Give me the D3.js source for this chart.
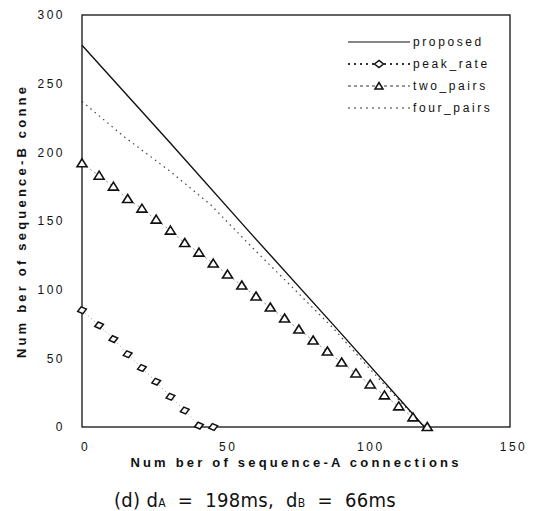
<!DOCTYPE html>
<html>
<head>
<meta charset="utf-8">
<script src="https://cdn.jsdelivr.net/npm/d3@7"></script>
<style>
  body { margin: 0; background: #fff; }
  svg { display: block; }
  text { font-family: "Liberation Sans", Arial, sans-serif; fill: #111; }
</style>
</head>
<body>
<div id="graph"></div>
<script>
// series
const proposedX = [0, 30, 60, 90, 120];
const proposedY = [278, 209, 139, 70, 0];

const peakX = [0, 6, 11, 16, 21, 26, 31, 36, 41, 46];
const peakY = [85, 74, 64, 53, 43, 33, 22, 12, 1, 0];

const twoX = [0, 6, 11, 16, 21, 26, 31, 36, 41, 46, 51, 56, 61, 66, 71, 76, 81, 86, 91, 96, 101, 106, 111, 116, 121];
const twoY = [192, 183, 175, 166, 159, 151, 143, 134, 127, 119, 111, 103, 95, 87, 79, 71, 63, 55, 47, 39, 31, 23, 15, 7, 0];

const fourX = [0, 15, 31, 45, 60, 76, 88, 101, 110, 120];
const fourY = [237, 211, 186, 162, 130, 97, 72, 42, 22, 0];

const xTicks = [0, 50, 100, 150];
const yTicks = [0, 50, 100, 150, 200, 250, 300];
const legendNames = ["proposed", "peak_rate", "two_pairs", "four_pairs"];

const w = 534;
const h = 511;
const padL = 82, padR = 510, padT = 15, padB = 427;

const svg = d3.select('#graph')
    .append('svg')
    .attr('width', w)
    .attr('height', h);

const xScale = d3.scaleLinear().domain([0, 150]).range([padL, padR]);
const yScale = d3.scaleLinear().domain([0, 300]).range([padB, padT]);

const zip = (xs, ys) => xs.map((x, i) => [x, ys[i]]);
const line = d3.line().x(d => xScale(d[0])).y(d => yScale(d[1]));

// frame
svg.append('rect')
    .attr('x', padL).attr('y', padT)
    .attr('width', padR - padL).attr('height', padB - padT)
    .attr('fill', 'none').attr('stroke', '#111').attr('stroke-width', 1.3);

// axes (labels only)
const xAxis = d3.axisBottom(xScale).tickValues(xTicks).tickSize(0).tickPadding(15);
const yAxis = d3.axisLeft(yScale).tickValues(yTicks).tickSize(0).tickPadding(17);

const gx = svg.append('g').attr('transform', 'translate(0,' + padB + ')').call(xAxis);
const gy = svg.append('g').attr('transform', 'translate(' + padL + ',0)').call(yAxis);
[gx, gy].forEach(g => {
    g.select('.domain').remove();
    g.selectAll('text')
        .style('font-family', '"Liberation Sans", Arial, sans-serif')
        .style('font-size', '12px')
        .style('letter-spacing', '2.5px')
        .attr('fill', '#111');
});
gx.selectAll('text').attr('dx', '3px');

// lines
svg.append('path').datum(zip(fourX, fourY))
    .attr('d', line).attr('fill', 'none')
    .attr('stroke', '#444').attr('stroke-width', 1.2)
    .attr('stroke-dasharray', '1.5,4');

svg.append('path').datum(zip(twoX, twoY))
    .attr('d', line).attr('fill', 'none')
    .attr('stroke', '#777').attr('stroke-width', 0.8)
    .attr('stroke-dasharray', '2,3');

svg.append('path').datum(zip(peakX, peakY))
    .attr('d', line).attr('fill', 'none')
    .attr('stroke', '#777').attr('stroke-width', 0.8)
    .attr('stroke-dasharray', '1,3');

svg.append('path').datum(zip(proposedX, proposedY))
    .attr('d', line).attr('fill', 'none')
    .attr('stroke', '#111').attr('stroke-width', 1.4);

// markers
const triPath = 'M0,-4.5L5,3.5L-5,3.5Z';
const diaPath = 'M-4.5,0L0,-3.5L4.5,0L0,3.5Z';

svg.selectAll('.tri')
    .data(zip(twoX, twoY))
    .enter().append('path')
    .attr('class', 'tri')
    .attr('transform', d => 'translate(' + xScale(d[0]) + ',' + yScale(d[1]) + ')')
    .attr('d', triPath)
    .attr('fill', '#fff').attr('stroke', '#111').attr('stroke-width', 1.6);

svg.selectAll('.dia')
    .data(zip(peakX, peakY))
    .enter().append('path')
    .attr('class', 'dia')
    .attr('transform', d => 'translate(' + xScale(d[0]) + ',' + yScale(d[1]) + ') rotate(-15)')
    .attr('d', diaPath)
    .attr('fill', '#fff').attr('stroke', '#111').attr('stroke-width', 1.5);

// legend
const legend = svg.selectAll('.legend')
    .data(legendNames)
    .enter().append('g')
    .attr('class', 'legend')
    .attr('transform', (d, i) => 'translate(348,' + (42 + i * 22) + ')');

legend.append('line')
    .attr('x1', 0).attr('x2', 62).attr('y1', 0).attr('y2', 0)
    .attr('stroke', (d, i) => i === 0 ? '#111' : '#333')
    .attr('stroke-width', (d, i) => i === 0 ? 1.2 : (i === 1 ? 2 : 1))
    .attr('stroke-dasharray', (d, i) => ['', '2,4', '3,3', '2,4'][i]);

legend.filter((d, i) => i === 1).append('path')
    .attr('transform', 'translate(31,0)')
    .attr('d', diaPath)
    .attr('fill', '#fff').attr('stroke', '#111').attr('stroke-width', 1.5);

legend.filter((d, i) => i === 2).append('path')
    .attr('transform', 'translate(31,0)')
    .attr('d', 'M0,-3.5L4,3L-4,3Z')
    .attr('fill', '#fff').attr('stroke', '#111').attr('stroke-width', 1.5);

legend.append('text')
    .attr('x', 65).attr('y', 0).attr('dy', '.35em')
    .style('font-size', '12px')
    .style('letter-spacing', '2.6px')
    .text(d => d);

// axis titles
svg.append('text')
    .attr('x', (padL + padR) / 2).attr('y', 467)
    .attr('text-anchor', 'middle')
    .style('font-size', '13px').style('font-weight', 'bold')
    .style('letter-spacing', '3.2px')
    .text('Num ber of sequence-A connections');

svg.append('text')
    .attr('transform', 'translate(26,' + ((padT + padB) / 2) + ') rotate(-90)')
    .attr('text-anchor', 'middle')
    .style('font-size', '13px').style('font-weight', 'bold')
    .style('letter-spacing', '3.2px')
    .text('Num ber of sequence-B conne');

// caption
const cap = svg.append('text')
    .attr('x', 255).attr('y', 507)
    .attr('text-anchor', 'middle')
    .style('white-space', 'pre')
    .style('font-family', '"Liberation Sans Narrow", "DejaVu Sans Condensed", sans-serif')
    .style('font-size', '20px')
    .style('letter-spacing', '0.3px');
cap.append('tspan').text('(d) d');
cap.append('tspan').style('font-size', '12px').text('A');
cap.append('tspan').text('  =  198ms,  d');
cap.append('tspan').style('font-size', '12px').text('B');
cap.append('tspan').text('  =  66ms');
</script>
</body>
</html>
